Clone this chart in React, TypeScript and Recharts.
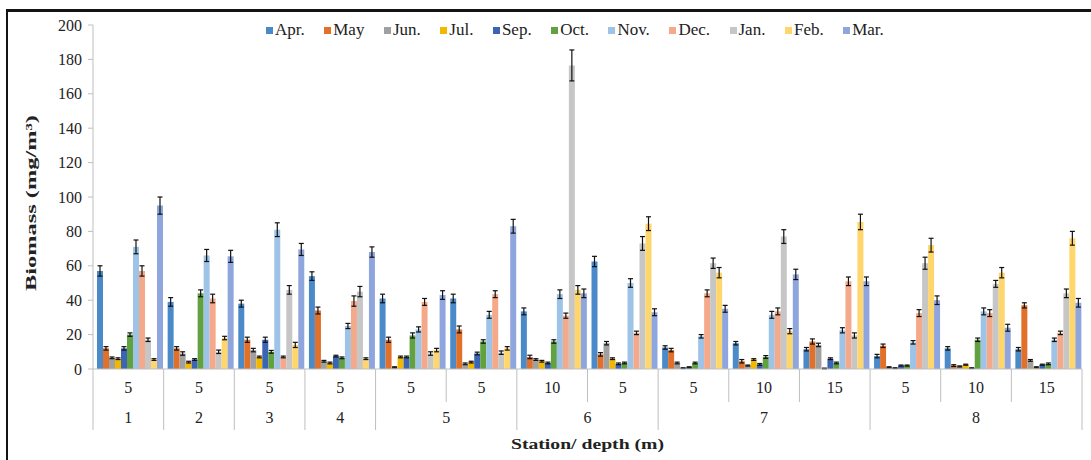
import React from 'react';
import { BarChart, Bar, XAxis, YAxis, Legend, ErrorBar } from 'recharts';

const SERIF = '"Liberation Serif", "Times New Roman", serif';

// categories: depth (m) per sampling point, and the station it belongs to
const depths = ['5', '5', '5', '5', '5', '5', '10', '5', '5', '10', '15', '5', '10', '15'];
const stations = ['1', '2', '3', '4', '5', '5', '6', '6', '7', '7', '7', '8', '8', '8'];

const months = ['Apr.', 'May', 'Jun.', 'Jul.', 'Sep.', 'Oct.', 'Nov.', 'Dec.', 'Jan.', 'Feb.', 'Mar.'];
const colors = ['#4a8ac8', '#e0702a', '#a0a0a0', '#f2b800', '#3c64b4', '#62a140', '#9dc3e6', '#f4a98a', '#c6c6c6', '#ffd66b', '#8ea6dd'];

// biomass means (mg/m3)
const apr = [57, 39, 38, 54, 41, 41, 33.5, 62.5, 12.5, 15, 11.5, 7.5, 12, 11.5];
const may = [12, 12, 17, 34, 17, 23, 7, 8.5, 11, 4.5, 16, 13.5, 2, 37];
const jun = [6.5, 9, 11, 4.5, 1, 3, 5.5, 15, 3.5, 2, 14, 1, 1.5, 5];
const jul = [6, 4, 7, 3.5, 7, 4, 4.5, 6, 0.5, 5.5, 0.3, 0.5, 2.5, 1];
const sep = [12, 5.5, 17, 7.5, 7, 9, 3.5, 3, 1, 2.7, 6, 2, 0.5, 2.5];
const oct = [20, 44, 10, 6.5, 19.5, 16, 16, 3.5, 3.5, 7, 3.5, 2, 17, 3];
const nov = [71, 66, 81, 25, 23, 31.5, 43.5, 50, 19, 31.5, 22.5, 15.5, 33.5, 17];
const dec = [57, 41, 7, 39.5, 39, 43.5, 31, 21, 44, 33.5, 51, 32.5, 32.5, 21];
const jan = [17, 10, 46, 45, 9, 9.5, 176.5, 73, 61.5, 77, 19.5, 61.5, 49.5, 44];
const feb = [5.5, 18, 14, 6, 11, 12, 46, 84.5, 56, 22, 85.5, 72, 56, 76];
const mar = [95, 65.5, 69.5, 68, 43, 83, 44, 33, 35, 55, 51, 40, 24, 38.5];

// standard errors
const aprErr = [3, 2.5, 2, 2.5, 2.5, 2.5, 2, 3, 1, 1, 1, 1, 1, 1];
const mayErr = [1, 1, 1.5, 2, 1.5, 2, 1, 1, 1, 1, 1.5, 1, 0.5, 1.5];
const junErr = [0.5, 1, 1, 0.5, 0.3, 0.5, 0.5, 1, 0.5, 0.3, 1, 0.3, 0.3, 0.5];
const julErr = [0.5, 0.5, 0.5, 0.5, 0.5, 0.5, 0.5, 0.5, 0.2, 0.5, 0.2, 0.2, 0.3, 0.3];
const sepErr = [1, 0.5, 1.5, 0.5, 0.5, 0.8, 0.5, 0.5, 0.3, 0.5, 0.5, 0.3, 0.2, 0.3];
const octErr = [1, 2, 0.8, 0.5, 1.5, 1, 1, 0.5, 0.5, 0.8, 0.5, 0.3, 1, 0.5];
const novErr = [4, 3.5, 4, 1.5, 1.5, 2, 2.5, 2.5, 1, 2, 1.5, 1, 2, 1];
const decErr = [3, 2.5, 0.5, 3, 2, 2, 1.5, 1, 2, 2, 2.5, 2, 2, 1];
const janErr = [1, 1, 2.5, 3, 1, 1, 9, 4, 3, 4, 1.5, 3.5, 2, 2.5];
const febErr = [0.5, 1, 1.5, 0.5, 1, 1, 2.5, 4, 3, 1.5, 4.5, 4, 3, 4];
const marErr = [5, 3.5, 3.5, 3, 2.5, 4, 2.5, 2, 2, 3, 2.5, 2.5, 2, 2.5];

const yTicks = [0, 20, 40, 60, 80, 100, 120, 140, 160, 180, 200];

const seriesValues = [apr, may, jun, jul, sep, oct, nov, dec, jan, feb, mar];
const seriesErrors = [aprErr, mayErr, junErr, julErr, sepErr, octErr, novErr, decErr, janErr, febErr, marErr];

const data = depths.map((depth, i) => {
  const row: Record<string, string | number> = { depth, station: stations[i] };
  months.forEach((_, s) => {
    row['v' + s] = seriesValues[s][i];
    row['e' + s] = seriesErrors[s][i];
  });
  return row;
});

const WIDTH = 1091;
const HEIGHT = 460;
const PLOT_LEFT = 93;
const PLOT_RIGHT = 1082;
const BAND = (PLOT_RIGHT - PLOT_LEFT) / depths.length;
const GRID = '#bfbfbf';

const CategoryTick = (props: any) => {
  const { x, y, index } = props;
  const left = x - BAND / 2;
  const first = index === 0 || stations[index] !== stations[index - 1];
  let span = 1;
  while (index + span < stations.length && stations[index + span] === stations[index]) span++;
  const last = index === depths.length - 1;
  return (
    <g>
      <line x1={left} x2={left} y1={y} y2={y + (first ? 61 : 33)} stroke={GRID} />
      {last && <line x1={left + BAND} x2={left + BAND} y1={y} y2={y + 61} stroke={GRID} />}
      <text x={x} y={y + 24} textAnchor="middle" fontFamily={SERIF} fontSize={16} fill="#222">
        {depths[index]}
      </text>
      {first && (
        <text x={left + (span * BAND) / 2} y={y + 54} textAnchor="middle" fontFamily={SERIF} fontSize={16} fill="#222">
          {stations[index]}
        </text>
      )}
    </g>
  );
};

// legend keeps the series order (Apr. ... Mar.)
const renderLegend = () => (
  <div style={{ display: 'flex', gap: 19.5, fontFamily: SERIF, fontSize: 17, color: '#222', lineHeight: '18px' }}>
    {months.map((m, s) => (
      <span key={m} style={{ display: 'flex', alignItems: 'center' }}>
        <span style={{ display: 'inline-block', width: 7, height: 7, background: colors[s], marginRight: 2 }} />
        {m}
      </span>
    ))}
  </div>
);

export default function App() {
  return (
    <div style={{ position: 'fixed', left: 0, top: 0, width: WIDTH, height: HEIGHT, background: '#fff' }}>
      <div
        style={{
          position: 'absolute',
          left: 6,
          top: 9,
          width: WIDTH - 6,
          height: HEIGHT - 9,
          borderTop: '3px solid #141414',
          borderLeft: '2px solid #141414',
          boxSizing: 'border-box',
        }}
      />
      <BarChart
        width={WIDTH}
        height={HEIGHT}
        data={data}
        margin={{ top: 25, right: WIDTH - PLOT_RIGHT, bottom: 0, left: 0 }}
        barCategoryGap={4}
        barGap={0}
      >
        <XAxis
          dataKey="depth"
          interval={0}
          height={91}
          tickLine={false}
          tickSize={0}
          tickMargin={0}
          axisLine={{ stroke: GRID }}
          tick={<CategoryTick />}
          label={(p: any) => {
            const vb = p.viewBox || { x: PLOT_LEFT, y: 369, width: PLOT_RIGHT - PLOT_LEFT };
            return (
              <text
                x={vb.x + vb.width / 2}
                y={vb.y + 80}
                textAnchor="middle"
                fontFamily={SERIF}
                fontSize={15}
                fontWeight="bold"
                fill="#222"
                textLength={153}
                lengthAdjust="spacingAndGlyphs"
              >
                Station/ depth (m)
              </text>
            );
          }}
        />
        <YAxis
          width={PLOT_LEFT}
          domain={[0, 200]}
          ticks={yTicks}
          interval={0}
          tickSize={5}
          tickMargin={6}
          axisLine={{ stroke: GRID }}
          tickLine={{ stroke: GRID }}
          tick={{ fontFamily: SERIF, fontSize: 16, fill: '#222' }}
          label={(p: any) => {
            const vb = p.viewBox || { y: 25, height: 344 };
            const cx = 31;
            const cy = vb.y + vb.height / 2 + 6;
            return (
              <text
                x={cx}
                y={cy}
                transform={`rotate(-90 ${cx} ${cy})`}
                textAnchor="middle"
                dominantBaseline="central"
                fontFamily={SERIF}
                fontSize={15}
                fontWeight="bold"
                fill="#222"
                textLength={176}
                lengthAdjust="spacingAndGlyphs"
              >
                Biomass (mg/m³)
              </text>
            );
          }}
        />
        <Legend
          verticalAlign="middle"
          align="center"
          content={renderLegend}
          wrapperStyle={{ top: 21, left: 266, width: 720, height: 18 }}
        />
        {months.map((m, s) => (
          <Bar key={m} dataKey={'v' + s} name={m} fill={colors[s]} isAnimationActive={false}>
            <ErrorBar dataKey={'e' + s} width={2.5} strokeWidth={1.2} stroke="#111" direction="y" />
          </Bar>
        ))}
      </BarChart>
    </div>
  );
}
